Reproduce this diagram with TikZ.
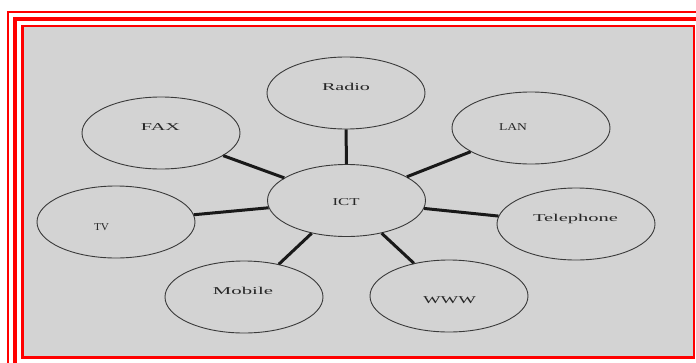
\documentclass[tikz,border=0pt]{standalone}
\usepackage{fontspec}
\setmainfont{Liberation Serif}
\usetikzlibrary{shapes.geometric}
\definecolor{bggray}{HTML}{D3D3D3}
\definecolor{edgegray}{HTML}{3A3A3A}
\newcommand\fitw[2]{\resizebox{#1}{\height}{#2}}
\begin{document}
\begin{tikzpicture}[x=1pt,y=-1pt,
  bubble/.style={ellipse, draw=edgegray, line width=0.9pt, fill=bggray,
    minimum width=158pt, minimum height=72pt, inner sep=0pt},
  word/.style={font=\fontsize{10.5}{12}\selectfont, text=black!85, inner sep=0pt, anchor=center},
  link/.style={line width=3pt, black!90}]
\useasboundingbox (0,0) rectangle (696,362);
\clip (0,0) rectangle (696,362);
\fill[white] (0,0) rectangle (696,362);
% frame
\draw[red, line width=1.7pt] (8.2,12.2) rectangle (720,390);
\draw[red, line width=4.3pt] (15.3,18.9) rectangle (720,390);
\draw[red, line width=2.5pt, fill=bggray] (22.4,25.9) rectangle (693.9,357.6);
% ellipses
\node[bubble] (ict) at (346.5,200.5) {};
\node[bubble] (radio) at (346,93) {};
\node[bubble] (fax) at (161,133) {};
\node[bubble] (lan) at (531,128) {};
\node[bubble] (tv) at (116,222) {};
\node[bubble] (tel) at (576,224) {};
\node[bubble] (mob) at (244,297) {};
\node[bubble] (www) at (449,296) {};
% connectors
\draw[link] (radio) -- (ict);
\draw[link] (fax) -- (ict);
\draw[link] (lan) -- (ict);
\draw[link] (tv) -- (ict);
\draw[link] (tel) -- (ict);
\draw[link] (mob) -- (ict);
\draw[link] (www) -- (ict);
% labels
\node[word] (tict) at (346,202) {\fitw{27pt}{ICT}};
\node[word] (tradio) at (346,86.5) {\fitw{48pt}{Radio}};
\node[word] (tfax) at (160.5,127) {\fitw{39pt}{FAX}};
\node[word] (tlan) at (513,127) {\fitw{28pt}{LAN}};
\node[word] (ttv) at (101.5,227) {\fitw{15pt}{TV}};
\node[word] (ttel) at (575.5,218.5) {\fitw{85pt}{Telephone}};
\node[word] (tmob) at (243,291) {\fitw{60pt}{Mobile}};
\node[word] (twww) at (449.5,300) {\fitw{53pt}{WWW}};
\end{tikzpicture}
\end{document}
